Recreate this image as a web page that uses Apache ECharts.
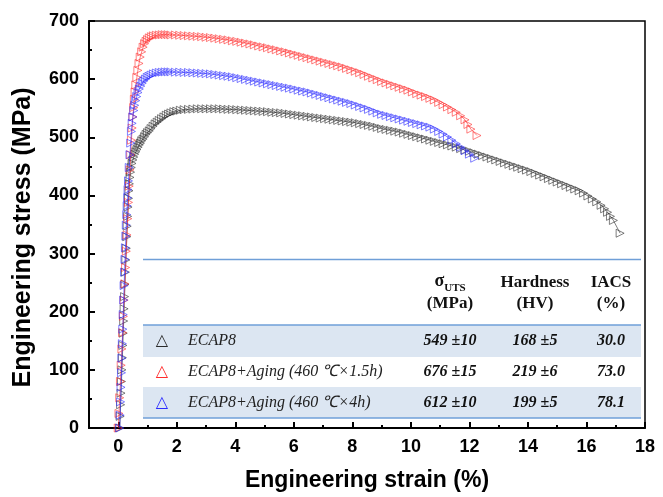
<!DOCTYPE html>
<html><head><meta charset="utf-8">
<script src="https://cdn.jsdelivr.net/npm/echarts@6/dist/echarts.min.js"></script>
<style>html,body{margin:0;padding:0;background:#fff}#c{width:663px;height:497px}</style>
</head><body><div id="c"></div><script>
// ---- axis ticks ----
const xTickValues = [0, 2, 4, 6, 8, 10, 12, 14, 16, 18];
const xMinorValues = [1, 3, 5, 7, 9, 11, 13, 15, 17];

// ---- series names / colors ----
const seriesNames = ['ECAP8', 'ECAP8+Aging (460 ℃×1.5h)', 'ECAP8+Aging (460 ℃×4h)'];
const seriesColors = ['#2a2a2a', '#ff2a2a', '#2a2aff'];

// ---- ECAP8 (black) ----
const blackStrain = [0.05,0.065,0.08,0.095,0.11,0.125,0.14,0.155,0.17,0.185,0.20,0.215,0.23,0.245,0.26,0.275,0.29,0.305,0.32,0.335,0.35,0.365,0.38,0.40,0.42,0.445,0.47,0.50,0.53,0.565,0.60,0.64,0.68,0.72,0.76,0.80,0.85,0.90,0.95,1.00,1.06,1.12,1.19,1.26,1.33,1.40,1.48,1.56,1.64,1.72,1.80,1.90,2.00,2.12,2.25,2.40,2.55,2.70,
2.85,3.00,3.15,3.30,3.45,3.60,3.75,3.90,4.05,4.20,4.35,4.50,4.65,4.80,4.95,5.10,5.25,5.40,5.55,5.70,5.85,6.00,6.15,6.30,6.45,6.60,6.75,6.90,7.05,7.20,7.35,7.50,7.65,7.80,7.95,8.10,8.25,8.40,8.55,8.70,8.85,9.00,9.15,9.30,9.45,9.60,9.75,9.90,10.05,10.20,10.35,10.50,10.65,10.80,10.95,11.10,11.25,11.40,11.55,11.70,11.85,12.00,12.15,12.30,12.45,12.60,12.75,12.90,13.05,13.20,13.35,13.50,13.65,13.80,13.95,14.10,14.25,14.40,14.55,14.70,14.85,15.00,15.15,15.30,15.45,15.60,15.75,15.90,16.05,16.20,16.35,16.50,16.62,16.72,16.82,16.92,17.15];
const blackStress = [0,20,40,60,80,100,121,142,163,184,205,226,247,268,289,309,329,347,364,380,395,408,420,431,440,448,455,461,466,471,475,479,483,487,490,494,497,501,505,508,511,515,519,523,526,529,532,535,538,540,542,544,545,546.5,547.5,548,548.5,549,
549,549,549,549,549,548.5,548,548,547.5,547,546.5,546,545.5,545,544.5,544,543,542.5,542,541,540,539,538,537,536,535,534,533,532,531,530,529,528,527,526,525,523.5,522,520.5,519,517,515,513.5,512,510.5,509,507,505,503,501,499,497,495,493,491,489,487,485,483,480.5,478,476,473.5,471,468.5,466,463.5,461,458.5,456,453.5,451,448.5,446,443.5,441,438,435,432,429,426,423,420,417,414,411,408,404,399,394,389,383,377,371,364,357,335];

// ---- ECAP8 + Aging 1.5h (red) ----
const redStrain = [0.00,0.025,0.05,0.075,0.10,0.125,0.15,0.175,0.20,0.225,0.25,0.275,0.30,0.325,0.35,0.375,0.40,0.425,0.45,0.475,0.50,0.525,0.55,0.575,0.60,0.635,0.67,0.71,0.75,0.80,0.85,0.90,0.95,1.00,1.06,1.13,1.20,1.30,1.40,1.50,1.60,1.70,1.80,1.95,2.10,2.25,2.40,2.55,2.70,2.85,3.00,3.15,3.30,3.45,3.60,3.75,3.90,4.05,4.20,4.35,4.50,4.65,4.80,4.95,5.10,5.25,5.40,5.55,5.70,5.85,6.00,6.15,6.30,6.45,6.60,6.75,6.90,7.05,7.20,7.35,7.50,7.65,7.80,7.95,8.10,8.25,8.40,8.55,8.70,8.85,9.00,9.15,9.30,9.45,9.60,9.75,9.90,10.05,10.20,10.35,10.50,10.65,10.80,10.95,11.10,11.25,11.40,11.55,11.70,11.85,11.95,12.05,12.26];
const redStress = [0,25,52,80,108,136,164,192,220,248,276,304,332,360,388,416,444,470,495,516,535,551,565,578,590,603,615,627,638,647,655,661,665,668,671,673,674.5,675.5,676,676.5,676.5,676.5,676,676,675.5,675,674.5,674,673.5,673,672,671.5,670.5,669.5,668.5,667.5,666,665,663.5,662,660.5,659,657,655.5,654,652,650.5,648.5,647,645,643,641,639,637,635,633,631,629,627,625,623,621,618.5,616,613.5,611,608,605,602,599,596,593.5,591,588.5,586,583.5,581,578,575,572.5,570,567,564,560,556,552,547.5,543,537,530,522,514,503];

// ---- ECAP8 + Aging 4h (blue) ----
const blueStrain = [0.05,0.065,0.08,0.095,0.11,0.125,0.14,0.155,0.17,0.185,0.20,0.215,0.23,0.245,0.26,0.275,0.29,0.305,0.32,0.335,0.35,0.375,0.40,0.425,0.45,0.475,0.50,0.53,0.56,0.595,0.63,0.675,0.72,0.77,0.82,0.875,0.93,0.99,1.05,1.12,1.20,1.30,1.40,1.50,1.60,1.70,1.80,1.95,2.10,2.25,2.40,2.55,2.70,2.85,3.00,3.15,3.30,3.45,3.60,3.75,3.90,4.05,4.20,4.35,4.50,4.65,4.80,4.95,5.10,5.25,5.40,5.55,5.70,5.85,6.00,6.15,6.30,6.45,6.60,6.75,6.90,7.05,7.20,7.35,7.50,7.65,7.80,7.95,8.10,8.25,8.40,8.55,8.70,8.85,9.00,9.15,9.30,9.45,9.60,9.75,9.90,10.05,10.20,10.35,10.50,10.65,10.80,10.95,11.10,11.25,11.40,11.55,11.70,11.85,12.00,12.18];
const blueStress = [0,22,45,70,95,120,145,170,195,220,245,268,290,310,330,349,367,382,396,410,425,448,470,490,510,524,535,546,555,563,570,577,583,588,593,597,600,603,605,607,609,610.5,611.5,612,612.5,612.5,612.5,612,612,611.5,611.5,611,610.5,610,609.5,609,608,607,606,605,604,602.5,601,599.5,598,596.5,595,593.5,592,590.5,589,587.5,586,584.5,583,581,579.5,578,576,574,572,570,568,566,564,562,560,558,555.5,553,550.5,548,545,542,539.5,537.5,535.5,533.5,531.5,529.5,527.5,525.5,523.5,521.5,519.5,517.5,514,510,505.5,500.5,495,489,483,477,471,464];

// ---- table ----
const tableHeadTop = ['{a|σ}{b|UTS}', 'Hardness', 'IACS'];
const tableHeadBottom = ['(MPa)', '(HV)', '(%)'];
const utsValues = ['549 ±10', '676 ±15', '612 ±10'];
const hardnessValues = ['168 ±5', '219 ±6', '199 ±5'];
const iacsValues = ['30.0', '73.0', '78.1'];

const pairs = (xs, ys) => xs.map((x, i) => [x, ys[i]]);
const curves = [pairs(blackStrain, blackStress), pairs(redStrain, redStress), pairs(blueStrain, blueStress)];

const SANS = 'Liberation Sans';
const SERIF = 'Liberation Serif';

const series = curves.map((d, i) => ({
  name: seriesNames[i],
  type: 'line',
  data: d,
  symbol: 'triangle',
  symbolSize: 8,
  symbolRotate: -90,
  showAllSymbol: true,
  silent: true,
  lineStyle: { color: seriesColors[i], width: 0.6 },
  itemStyle: { color: 'rgba(255,255,255,0)', borderColor: seriesColors[i], borderWidth: 0.6 },
  emphasis: { disabled: true },
  z: 2 + i
}));

// table layout (pixels)
const tLeft = 143, tRight = 641;
const colX = [450, 535, 611];
const rowY = [341, 372, 403];
const lineColor = '#6f9fd8';
const bandColor = '#dce6f2';

function txt(x, y, text, st) {
  return {
    type: 'text', x: x, y: y, z: 100, silent: true,
    style: Object.assign({
      text: text, fill: '#111', align: 'center', verticalAlign: 'middle',
      textAlign: 'center', textVerticalAlign: 'middle',
      fontFamily: SERIF, fontSize: 16
    }, st || {})
  };
}

const graphics = [];
graphics.push({ type: 'rect', z: 90, silent: true, shape: { x: tLeft, y: 325, width: tRight - tLeft, height: 32 }, style: { fill: bandColor } });
graphics.push({ type: 'rect', z: 90, silent: true, shape: { x: tLeft, y: 387, width: tRight - tLeft, height: 31 }, style: { fill: bandColor } });
[259.5, 325, 418].forEach(y => graphics.push({ type: 'line', z: 95, silent: true, shape: { x1: tLeft, y1: y, x2: tRight, y2: y }, style: { stroke: lineColor, lineWidth: 1.3 } }));
tableHeadTop.forEach((t, i) => {
  if (i === 0) {
    graphics.push(txt(colX[i], 283, t, {
      fontWeight: 'bold', fontSize: 17,
      rich: {
        a: { fontFamily: SERIF, fontWeight: 'bold', fontSize: 18, fill: '#111', verticalAlign: 'bottom', padding: [0, 0, 4, 0] },
        b: { fontFamily: SERIF, fontWeight: 'bold', fontSize: 11, fill: '#111', verticalAlign: 'bottom' }
      }
    }));
  } else {
    graphics.push(txt(colX[i], 283, t, { fontWeight: 'bold', fontSize: 17 }));
  }
  graphics.push(txt(colX[i], 304, tableHeadBottom[i], { fontWeight: 'bold', fontSize: 17 }));
});
seriesNames.forEach((n, r) => {
  graphics.push(txt(162, rowY[r], '△', { fill: seriesColors[r], fontFamily: 'DejaVu Sans', fontSize: 16 }));
  graphics.push(txt(188, rowY[r], n, { align: 'left', textAlign: 'left', fontStyle: 'italic', fontSize: 16, fill: '#222' }));
  graphics.push(txt(colX[0], rowY[r], utsValues[r], { fontStyle: 'italic', fontWeight: 'bold', fontSize: 16 }));
  graphics.push(txt(colX[1], rowY[r], hardnessValues[r], { fontStyle: 'italic', fontWeight: 'bold', fontSize: 16 }));
  graphics.push(txt(colX[2], rowY[r], iacsValues[r], { fontStyle: 'italic', fontWeight: 'bold', fontSize: 16 }));
});

const chart = echarts.init(document.getElementById('c'), null, { renderer: 'canvas' });
chart.setOption({
  animation: false,
  backgroundColor: '#fff',
  grid: { left: 89, top: 21, right: 18, bottom: 64, show: true, borderColor: '#000', borderWidth: 1.5, backgroundColor: 'transparent' },
  xAxis: [{
    type: 'value', min: -1, max: 18,
    name: 'Engineering strain (%)', nameLocation: 'middle', nameGap: 41,
    nameTextStyle: { fontFamily: SANS, fontWeight: 'bold', fontSize: 23, color: '#000' },
    axisLine: { onZero: false, lineStyle: { color: '#000', width: 2 } },
    axisTick: { inside: true, length: 6, customValues: xTickValues, lineStyle: { color: '#000', width: 2 } },
    axisLabel: { customValues: xTickValues, margin: 10, fontFamily: SANS, fontWeight: 'bold', fontSize: 18, color: '#000' },
    splitLine: { show: false }
  }, {
    type: 'value', min: -1, max: 18, position: 'bottom',
    axisLine: { show: false, onZero: false },
    axisTick: { inside: true, length: 3, customValues: xMinorValues, lineStyle: { color: '#000', width: 2 } },
    axisLabel: { show: false },
    splitLine: { show: false }
  }],
  yAxis: {
    type: 'value', min: 0, max: 700, interval: 100,
    name: 'Engineering stress (MPa)', nameLocation: 'middle', nameGap: 53,
    nameTextStyle: { fontFamily: SANS, fontWeight: 'bold', fontSize: 25, color: '#000', padding: [0, 26, 0, 0] },
    axisLine: { onZero: false, lineStyle: { color: '#000', width: 2 } },
    axisTick: { inside: true, length: 6, lineStyle: { color: '#000', width: 2 } },
    minorTick: { show: true, splitNumber: 2, length: 3, lineStyle: { color: '#000', width: 2 } },
    axisLabel: { margin: 10, fontFamily: SANS, fontWeight: 'bold', fontSize: 18, color: '#000' },
    splitLine: { show: false }
  },
  series: series,
  graphic: { elements: graphics }
});
</script></body></html>
